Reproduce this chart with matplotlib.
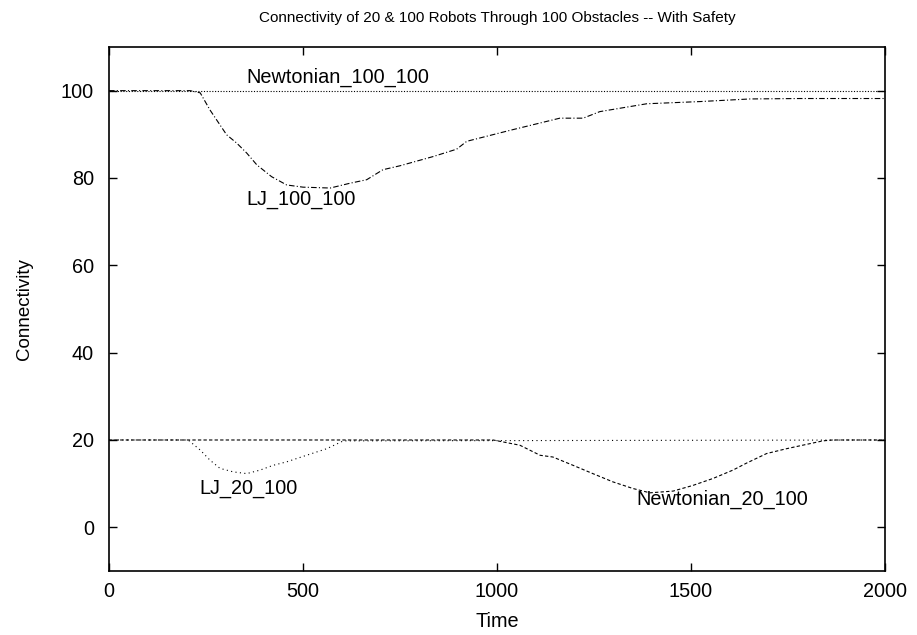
import matplotlib
matplotlib.use("Agg")
import matplotlib.pyplot as plt

# values
newton_100_x = [0, 2000]
newton_100_y = [100, 100]

lj_100_x = [0, 209, 235, 260, 303, 329, 355, 381, 419, 458, 500, 570, 621, 664, 706, 750,
            835, 896, 922, 1033, 1162, 1222, 1265, 1386, 1523, 1652, 1781, 2000]
lj_100_y = [100, 100, 99.5, 95.6, 89.9, 88.0, 85.7, 83.0, 80.3, 78.4, 77.9, 77.7, 78.8, 79.6, 81.9, 82.8,
            84.9, 86.6, 88.4, 90.9, 93.7, 93.7, 95.2, 97.0, 97.5, 98.1, 98.2, 98.2]

lj_20_x = [0, 204, 235, 260, 286, 320, 355, 389, 423, 458, 509, 561, 604, 2000]
lj_20_y = [20, 20, 17.7, 15.4, 13.5, 12.7, 12.3, 13.1, 14.2, 15.0, 16.5, 18.0, 19.8, 20]

newton_20_x = [0, 990, 1059, 1111, 1144, 1196, 1247, 1299, 1350, 1394, 1454, 1505, 1557,
               1608, 1643, 1695, 1746, 1798, 1840, 1865, 2000]
newton_20_y = [20, 20, 18.8, 16.5, 16.1, 14.2, 12.3, 10.4, 8.9, 7.9, 8.3, 9.6, 11.2,
               13.1, 14.7, 16.9, 18.0, 19.0, 19.8, 20, 20]

labels = ["Newtonian_100_100", "LJ_100_100", "LJ_20_100", "Newtonian_20_100"]
label_pos = [(355, 103), (355, 75.0), (234, 9.0), (1360, 6.4)]

plt.rcParams["font.family"] = ["Liberation Sans", "DejaVu Sans"]
fs = 14.3

fig = plt.figure(figsize=(9.17, 6.35), dpi=100)
ax = fig.add_axes([0.1189, 0.1008, 0.8462, 0.8252])

lw = 0.8
ax.plot(newton_100_x, newton_100_y, color="black", lw=lw, linestyle=(0, (1, 1.5)))
ax.plot(lj_100_x, lj_100_y, color="black", lw=lw, linestyle=(0, (5, 2, 1, 2)))
ax.plot(newton_20_x, newton_20_y, color="black", lw=lw, linestyle=(0, (3, 2)))
ax.plot(lj_20_x, lj_20_y, color="black", lw=lw, linestyle=(0, (1, 3)))

for text, (x, y) in zip(labels, label_pos):
    ax.text(x, y, text, ha="left", va="center", fontsize=fs)

ax.set_xlim(0, 2000)
ax.set_ylim(-10, 110)
ax.set_xticks([0, 500, 1000, 1500, 2000])
ax.set_yticks([0, 20, 40, 60, 80, 100])
ax.tick_params(direction="in", top=True, right=True, length=6, width=1, labelsize=fs)
ax.tick_params(axis="y", pad=11)
ax.tick_params(axis="x", pad=8)
ax.set_xlabel("Time", fontsize=fs, labelpad=8)
ax.set_ylabel("Connectivity", fontsize=13.5, labelpad=20)
ax.set_title("Connectivity of 20 & 100 Robots Through 100 Obstacles -- With Safety",
             fontsize=11, pad=18)
for spine in ax.spines.values():
    spine.set_linewidth(1.2)

fig.savefig("out.png", dpi=100)
